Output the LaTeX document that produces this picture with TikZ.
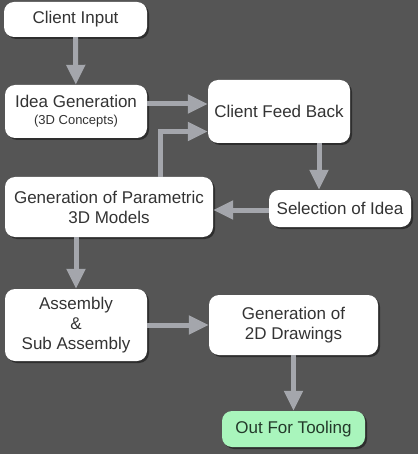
\documentclass[tikz,border=0pt]{standalone}
\usepackage{fontspec}
\setmainfont{Liberation Sans}
\usepackage{xcolor}
\usepackage{tikz}
\usetikzlibrary{calc,arrows.meta,shadows}
\definecolor{FBack}{HTML}{555555}
\definecolor{FInk}{HTML}{333333}
\definecolor{FArrow}{HTML}{A4A6AC}
\definecolor{FGreen}{HTML}{A9F5BC}
\definecolor{FGreenInk}{HTML}{23392A}

\begin{document}
\begin{tikzpicture}[x=1pt, y=-1pt,
  box/.style={draw=none, fill=white, rounded corners=10pt, align=center, inner sep=0pt,
    text=FInk, font=\fontsize{17}{20}\selectfont,
    drop shadow={shadow xshift=2pt, shadow yshift=-2pt, opacity=0.45, fill=black}},
  boxgreen/.style={box, fill=FGreen, text=FGreenInk},
  flow/.style={draw=FArrow, line width=5pt, -{Triangle[width=18pt, length=20pt]}}]
\fill[FBack] (0,0) rectangle (418,454);
\useasboundingbox (0,0) rectangle (418,454);
\node[box, minimum width=143pt, minimum height=35pt] (input)    at (75.5,19.5) {Client Input};
\node[box, minimum width=142pt, minimum height=53pt] (idea)     at (76,111.5)  {Idea Generation\\[-3pt]{\fontsize{13}{15}\selectfont(3D Concepts)}};
\node[box, minimum width=142pt, minimum height=63pt] (feedback) at (279,111.5) {Client Feed Back};
\node[box, minimum width=208pt, minimum height=60pt] (param)    at (109,207)   {Generation of Parametric\\3D Models};
\node[box, minimum width=142pt, minimum height=37pt] (select)   at (340,208.5) {Selection of Idea};
\node[box, minimum width=142pt, minimum height=72pt] (assembly) at (76,325)    {Assembly\\\&\\Sub Assembly};
\node[box, minimum width=169pt, minimum height=60pt] (drawing)  at (293.5,325) {Generation of\\2D Drawings};
\node[boxgreen, minimum width=143pt, minimum height=36pt] (tooling) at (293.5,429) {Out For Tooling};
\draw[flow] (input) -- (idea);
\draw[flow] ([yshift=7.5pt]idea.east) -- ([yshift=7.5pt]idea.east -| feedback.west);
\draw[flow] ([xshift=51pt]param.north) |- ([yshift=-20pt]feedback.west);
\draw[flow] ([xshift=40pt]feedback.south) -- ([xshift=40pt]feedback.south |- select.north);
\draw[flow] ([yshift=-1.5pt]select.west) -- ([yshift=-1.5pt]select.west -| param.east);
\draw[flow] (assembly.north |- param.south) -- (assembly.north);
\draw[flow] (assembly) -- (drawing);
\draw[flow] (drawing) -- (tooling);
\end{tikzpicture}
\end{document}
